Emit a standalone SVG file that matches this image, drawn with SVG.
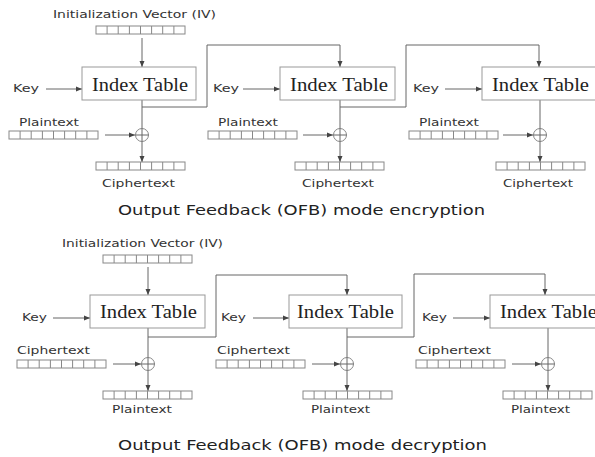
<svg xmlns="http://www.w3.org/2000/svg" width="595" height="457" viewBox="0 0 595 457">
<style>
.bg{fill:#fff}
.lbl{font-family:"DejaVu Sans",Verdana,sans-serif;font-size:10px;fill:#333}
.ttl{font-family:"DejaVu Sans",Verdana,sans-serif;font-size:14px;fill:#222}
.it{font-family:"Liberation Serif","Times New Roman",serif;font-size:19px;fill:#222}
.box{fill:#fff;stroke:#999;stroke-width:1}
.reg rect,.reg path{fill:#fff;stroke:#888;stroke-width:1}
.ln{fill:none;stroke:#666;stroke-width:1}
.ar{fill:none;stroke:#666;stroke-width:1;marker-end:url(#ah)}
.xor{fill:#fff;stroke:#888;stroke-width:1}
</style>
<defs>
<marker id="ah" markerUnits="userSpaceOnUse" markerWidth="6" markerHeight="6" refX="6" refY="3" orient="auto">
<path d="M0,0.5 L6,3 L0,5.5 z" fill="#444"/>
</marker>
<g id="reg" class="reg"><rect x="0" y="0" width="89" height="8"/><path d="M11.1 0V8M22.2 0V8M33.4 0V8M44.5 0V8M55.6 0V8M66.7 0V8M77.9 0V8"/></g>
<g id="xr"><circle class="xor" cx="0" cy="0" r="6.5"/><path class="ln" d="M-6.5 0H6.5M0 -6.5V6.5"/></g>
</defs>
<rect class="bg" x="0" y="0" width="595" height="457"/>

<g id="connectors">
<!-- top encryption -->
<path class="ar" d="M142 38V67"/>
<path class="ar" d="M46 89H82"/>
<path class="ar" d="M105 135H135"/>
<path class="ar" d="M142 100V162"/>
<path class="ar" d="M142 107H207V45H340V67"/>
<path class="ar" d="M243 89H280"/>
<path class="ar" d="M303 135H333"/>
<path class="ar" d="M340 100V162"/>
<path class="ar" d="M340 107H406V45H539V67"/>
<path class="ar" d="M445 89H482"/>
<path class="ar" d="M503 135H533"/>
<path class="ar" d="M540 100V162"/>
<!-- bottom decryption -->
<path class="ar" d="M148 267V295"/>
<path class="ar" d="M53 318H90"/>
<path class="ar" d="M113 364H141"/>
<path class="ar" d="M148 328V391"/>
<path class="ar" d="M148 337H216V275H347V295"/>
<path class="ar" d="M253 318H289"/>
<path class="ar" d="M312 364H340"/>
<path class="ar" d="M347 328V391"/>
<path class="ar" d="M347 337H414V274H545V295"/>
<path class="ar" d="M453 318H490"/>
<path class="ar" d="M512 364H541"/>
<path class="ar" d="M548 328V391"/>
</g>

<g id="enc-iv">
<text class="lbl" x="53" y="18" textLength="163" lengthAdjust="spacingAndGlyphs">Initialization Vector (IV)</text>
<use href="#reg" x="96" y="26"/>
</g>
<g id="enc-block1">
<rect class="box" x="82" y="67" width="114" height="33"/>
<text class="it" x="92" y="91" textLength="96" lengthAdjust="spacingAndGlyphs">Index Table</text>
</g>
<g id="enc-key1"><text class="lbl" x="13" y="92" textLength="26" lengthAdjust="spacingAndGlyphs">Key</text></g>
<g id="enc-pt1">
<text class="lbl" x="19" y="126" textLength="60" lengthAdjust="spacingAndGlyphs">Plaintext</text>
<use href="#reg" x="9" y="131"/>
</g>
<g id="enc-xor1"><use href="#xr" x="142" y="135"/></g>
<g id="enc-ct1">
<use href="#reg" x="96" y="162"/>
<text class="lbl" x="102" y="187" textLength="73" lengthAdjust="spacingAndGlyphs">Ciphertext</text>
</g>

<g id="enc-block2">
<rect class="box" x="280" y="67" width="115" height="33"/>
<text class="it" x="290" y="91" textLength="98" lengthAdjust="spacingAndGlyphs">Index Table</text>
</g>
<g id="enc-key2"><text class="lbl" x="213" y="92" textLength="26" lengthAdjust="spacingAndGlyphs">Key</text></g>
<g id="enc-pt2">
<text class="lbl" x="218" y="126" textLength="60" lengthAdjust="spacingAndGlyphs">Plaintext</text>
<use href="#reg" x="208" y="131"/>
</g>
<g id="enc-xor2"><use href="#xr" x="340" y="135"/></g>
<g id="enc-ct2">
<use href="#reg" x="295" y="162"/>
<text class="lbl" x="302" y="187" textLength="72" lengthAdjust="spacingAndGlyphs">Ciphertext</text>
</g>

<g id="enc-block3">
<rect class="box" x="482" y="67" width="114" height="33"/>
<text class="it" x="492" y="91" textLength="97" lengthAdjust="spacingAndGlyphs">Index Table</text>
</g>
<g id="enc-key3"><text class="lbl" x="413" y="92" textLength="26" lengthAdjust="spacingAndGlyphs">Key</text></g>
<g id="enc-pt3">
<text class="lbl" x="419" y="126" textLength="60" lengthAdjust="spacingAndGlyphs">Plaintext</text>
<use href="#reg" x="409" y="131"/>
</g>
<g id="enc-xor3"><use href="#xr" x="540" y="135"/></g>
<g id="enc-ct3">
<use href="#reg" x="496" y="162"/>
<text class="lbl" x="503" y="187" textLength="70" lengthAdjust="spacingAndGlyphs">Ciphertext</text>
</g>

<g id="enc-title"><text class="ttl" x="118" y="215" textLength="367" lengthAdjust="spacingAndGlyphs">Output Feedback (OFB) mode encryption</text></g>

<!-- decryption -->
<g id="dec-iv">
<text class="lbl" x="62" y="247" textLength="161" lengthAdjust="spacingAndGlyphs">Initialization Vector (IV)</text>
<use href="#reg" x="103" y="255"/>
</g>
<g id="dec-block1">
<rect class="box" x="90" y="295" width="115" height="33"/>
<text class="it" x="100" y="318" textLength="97" lengthAdjust="spacingAndGlyphs">Index Table</text>
</g>
<g id="dec-key1"><text class="lbl" x="22" y="321" textLength="25" lengthAdjust="spacingAndGlyphs">Key</text></g>
<g id="dec-ct1">
<text class="lbl" x="17" y="354" textLength="73" lengthAdjust="spacingAndGlyphs">Ciphertext</text>
<use href="#reg" x="17" y="360"/>
</g>
<g id="dec-xor1"><use href="#xr" x="148" y="364"/></g>
<g id="dec-pt1">
<use href="#reg" x="103" y="391"/>
<text class="lbl" x="112" y="413" textLength="60" lengthAdjust="spacingAndGlyphs">Plaintext</text>
</g>

<g id="dec-block2">
<rect class="box" x="289" y="295" width="113" height="33"/>
<text class="it" x="297" y="318" textLength="97" lengthAdjust="spacingAndGlyphs">Index Table</text>
</g>
<g id="dec-key2"><text class="lbl" x="221" y="321" textLength="25" lengthAdjust="spacingAndGlyphs">Key</text></g>
<g id="dec-ct2">
<text class="lbl" x="217" y="354" textLength="73" lengthAdjust="spacingAndGlyphs">Ciphertext</text>
<use href="#reg" x="216" y="360"/>
</g>
<g id="dec-xor2"><use href="#xr" x="347" y="364"/></g>
<g id="dec-pt2">
<use href="#reg" x="303" y="391"/>
<text class="lbl" x="311" y="413" textLength="59" lengthAdjust="spacingAndGlyphs">Plaintext</text>
</g>

<g id="dec-block3">
<rect class="box" x="490" y="295" width="113" height="33"/>
<text class="it" x="500" y="318" textLength="97" lengthAdjust="spacingAndGlyphs">Index Table</text>
</g>
<g id="dec-key3"><text class="lbl" x="422" y="321" textLength="25" lengthAdjust="spacingAndGlyphs">Key</text></g>
<g id="dec-ct3">
<text class="lbl" x="418" y="354" textLength="73" lengthAdjust="spacingAndGlyphs">Ciphertext</text>
<use href="#reg" x="416" y="360"/>
</g>
<g id="dec-xor3"><use href="#xr" x="548" y="364"/></g>
<g id="dec-pt3">
<use href="#reg" x="503" y="391"/>
<text class="lbl" x="511" y="413" textLength="59" lengthAdjust="spacingAndGlyphs">Plaintext</text>
</g>

<g id="dec-title"><text class="ttl" x="118" y="450" textLength="369" lengthAdjust="spacingAndGlyphs">Output Feedback (OFB) mode decryption</text></g>
</svg>
